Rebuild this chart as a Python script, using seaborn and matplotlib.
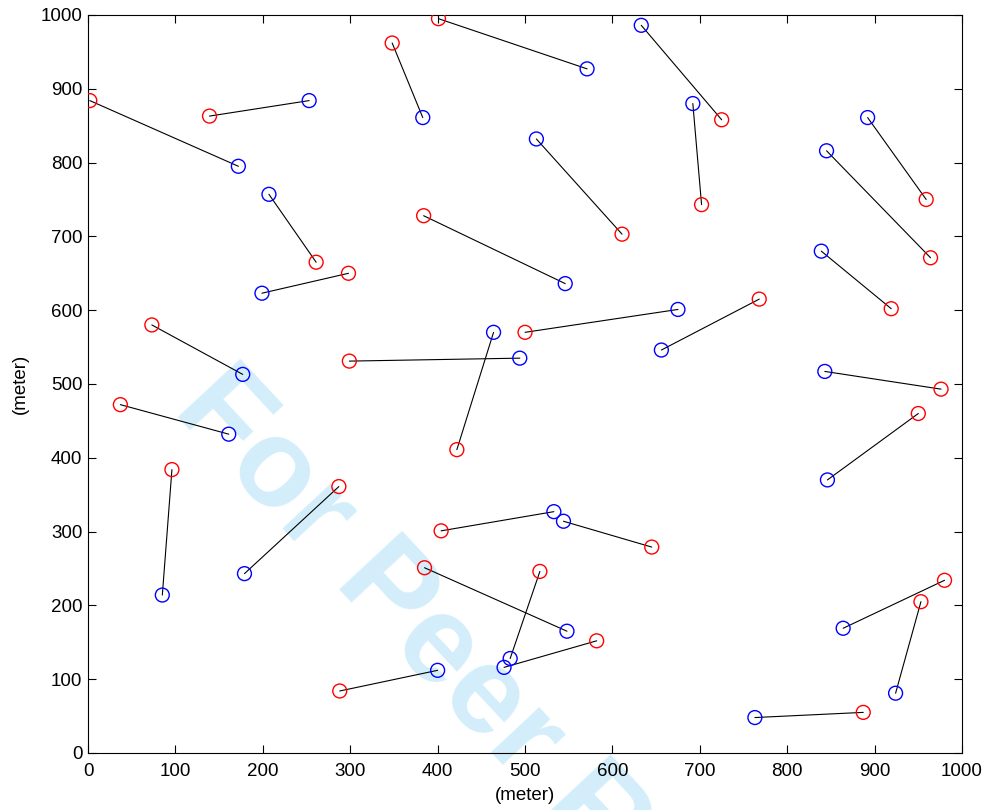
import numpy as np
import pandas as pd
import matplotlib
matplotlib.use("Agg")
import matplotlib.pyplot as plt
import seaborn as sns

# Red end of each link (meters)
red_x = [2, 139, 348, 401, 725, 702, 611, 261, 384, 298, 73, 299, 422, 500, 768,
         959, 964, 919, 976, 950, 37, 96, 287, 404, 645, 385, 517, 582, 288, 980, 953, 887]
red_y = [884, 863, 962, 995, 858, 743, 703, 665, 728, 650, 580, 531, 411, 570, 615,
         750, 671, 602, 493, 460, 472, 384, 361, 301, 279, 251, 246, 152, 84, 234, 205, 55]
# Blue end of each link (meters)
blue_x = [172, 253, 383, 571, 633, 692, 513, 207, 546, 199, 177, 494, 464, 675, 656,
          892, 845, 839, 843, 846, 161, 85, 179, 533, 544, 548, 483, 476, 400, 864, 924, 763]
blue_y = [795, 884, 861, 927, 986, 880, 832, 757, 636, 623, 513, 535, 570, 601, 546,
          861, 816, 680, 517, 370, 432, 214, 243, 327, 314, 165, 128, 116, 112, 169, 81, 48]

xticks = list(range(0, 1001, 100))
yticks = list(range(0, 1001, 100))

sns.set_theme(style="white")
plt.rcParams["font.family"] = ["Liberation Sans", "DejaVu Sans"]

n = len(red_x)
links = pd.DataFrame({
    "link": list(range(n)) * 2,
    "end": [0] * n + [1] * n,
    "x": red_x + blue_x,
    "y": red_y + blue_y,
})
red = pd.DataFrame({"x": red_x, "y": red_y})
blue = pd.DataFrame({"x": blue_x, "y": blue_y})

fig = plt.figure(figsize=(9.88, 8.10), dpi=100)
fig.patch.set_facecolor("white")
ax = fig.add_axes([0.0891, 0.0704, 0.9737 - 0.0891, 0.9815 - 0.0704])

# Watermark behind the data
ax.text(172 / 988, 1 - 410 / 810, "For Peer Review", transform=fig.transFigure,
        rotation=-47, rotation_mode="anchor", ha="left", va="baseline",
        fontsize=90, fontweight="bold", color="#d3eefa", zorder=0.5, clip_on=False,
        family=["Liberation Sans", "DejaVu Sans"])

sns.lineplot(data=links, x="x", y="y", units="link", estimator=None, sort=False,
             color="black", linewidth=0.8, ax=ax, zorder=2)
sns.scatterplot(data=red, x="x", y="y", marker="o", s=100, facecolors="none",
                edgecolor=(1, 0, 0), linewidth=1.0, ax=ax, zorder=3)
sns.scatterplot(data=blue, x="x", y="y", marker="o", s=100, facecolors="none",
                edgecolor=(0, 0, 1), linewidth=1.0, ax=ax, zorder=3)

ax.set_xlim(0, 1000)
ax.set_ylim(0, 1000)
ax.set_xticks(xticks)
ax.set_yticks(yticks)
ax.set_xlabel("(meter)", fontsize=13.5, labelpad=5, color="black")
ax.set_ylabel("(meter)", fontsize=13.5, labelpad=8.5, color="black")
ax.tick_params(axis="both", direction="in", length=6, width=0.8, colors="black",
               labelsize=13.5, top=True, right=True, bottom=True, left=True)
ax.tick_params(axis="x", pad=7)
ax.tick_params(axis="y", pad=4)
for sp in ax.spines.values():
    sp.set_visible(True)
    sp.set_color("black")
    sp.set_linewidth(0.8)
ax.set_facecolor("none")

fig.savefig("out.png", dpi=100, facecolor="white")
